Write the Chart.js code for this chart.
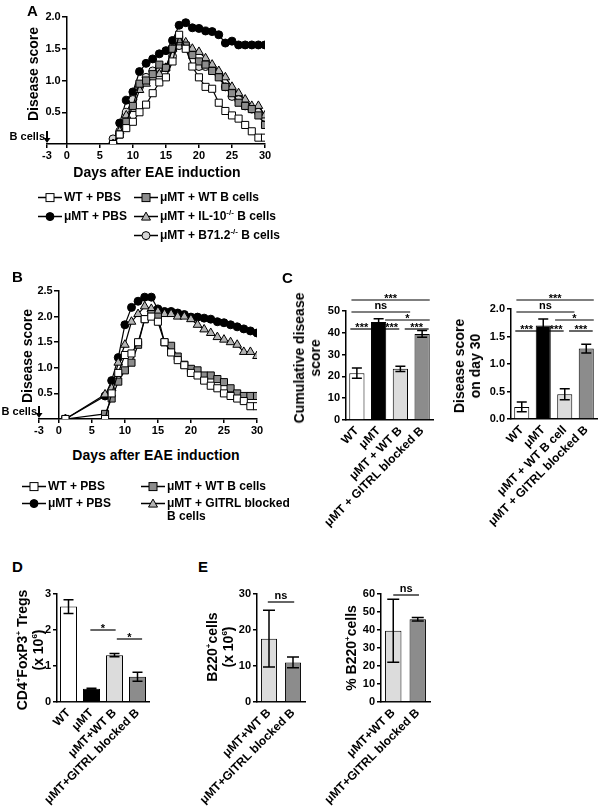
<!DOCTYPE html>
<html>
<head>
<meta charset="utf-8">
<script src="https://cdn.jsdelivr.net/npm/chart.js@4.4.1/dist/chart.umd.min.js"></script>
<style>
  body { margin: 0; background: #fff; }
  #fig { position: relative; width: 601px; height: 809px; overflow: hidden;
         font-family: "Liberation Sans", Arial, sans-serif; font-weight: bold; color: #000; }
  #fig canvas { position: absolute; }
  .t { position: absolute; white-space: nowrap; }
  .panel { font-size: 15px; line-height: 15px; }
  .xt { font-size: 14px; transform: translate(-50%, -50%); }
  .yt { font-size: 14px; line-height: 16px; text-align: center; transform: translate(-50%, -50%) rotate(-90deg); }
  .leg { font-size: 12px; line-height: 12px; transform: translateY(-50%); }
  .leg svg { vertical-align: middle; margin-right: 2px; }
  sup { font-size: 8px; line-height: 0; }
</style>
</head>
<body>
<div id="fig">
  <canvas id="chartA"></canvas>
  <canvas id="chartB"></canvas>
  <canvas id="chartC1"></canvas>
  <canvas id="chartC2"></canvas>
  <canvas id="chartD"></canvas>
  <canvas id="chartE1"></canvas>
  <canvas id="chartE2"></canvas>

  <div class="t panel" style="left:27px;top:3px">A</div>
  <div class="t panel" style="left:12px;top:269px">B</div>
  <div class="t panel" style="left:282px;top:270px">C</div>
  <div class="t panel" style="left:12px;top:559px">D</div>
  <div class="t panel" style="left:198px;top:559px">E</div>

  <div class="t yt" style="left:33px;top:74px">Disease score</div>
  <div class="t xt" style="left:157px;top:172px">Days after EAE induction</div>
  <div class="t yt" style="left:27px;top:356px">Disease score</div>
  <div class="t xt" style="left:156px;top:455px">Days after EAE induction</div>
  <div class="t yt" style="left:307px;top:358px">Cumulative disease<br>score</div>
  <div class="t yt" style="left:467px;top:366px">Disease score<br>on day 30</div>
  <div class="t yt" style="left:30px;top:650px">CD4<sup>+</sup>FoxP3<sup>+</sup> Tregs<br>(x 10<sup>6</sup>)</div>
  <div class="t yt" style="left:220px;top:647px">B220<sup>+</sup>cells<br>(x 10<sup>6</sup>)</div>
  <div class="t yt" style="left:351px;top:648px">% B220<sup>+</sup>cells</div>

  <div id="legendA"></div>
  <div id="legendB"></div>
</div>

<script>
// ---- panel A: disease course, days 7..30 ----
const daysA = [7,8,9,10,11,12,13,14,15,16,17,18,19,20,21,22,23,24,25,26,27,28,29,30];
const wtPbsA  = [0,0.15,0.25,0.35,0.5,0.62,0.8,0.97,1.05,1.3,1.72,1.5,1.22,1.05,0.9,0.87,0.65,0.52,0.45,0.4,0.3,0.2,0.1,0.1];
const muPbsA  = [0.02,0.33,0.69,0.82,1.14,1.27,1.34,1.42,1.47,1.63,1.87,1.91,1.83,1.82,1.78,1.77,1.72,1.59,1.62,1.56,1.56,1.56,1.56,1.56];
const wtBA    = [0,0.15,0.35,0.6,0.95,1.0,1.1,1.25,1.2,1.5,1.65,1.55,1.4,1.3,1.25,1.15,1.05,0.9,0.8,0.65,0.6,0.55,0.45,0.3];
const il10BA  = [0,0.2,0.45,0.55,0.85,0.95,1.05,1.1,1.2,1.5,1.6,1.6,1.5,1.45,1.35,1.25,1.15,1.05,0.9,0.8,0.7,0.6,0.6,0.45];
const b71BA   = [0.08,0.2,0.5,0.7,0.9,1.05,1.15,1.2,1.2,1.38,1.55,1.55,1.45,1.22,1.22,1.2,1.1,0.9,0.75,0.7,0.6,0.55,0.5,0.42];

// ---- panel B: disease course, day 1 and days 7..30 ----
const daysB = [1,7,8,9,10,11,12,13,14,15,16,17,18,19,20,21,22,23,24,25,26,27,28,29,30];
const wtPbsB  = [0,0,0.5,0.9,1.25,1.28,1.5,1.95,2.0,1.9,1.5,1.3,1.15,1.05,0.9,0.85,0.75,0.65,0.6,0.5,0.45,0.4,0.35,0.25,0.25];
const muPbsB  = [0,0.45,0.75,1.2,1.84,2.18,2.3,2.38,2.38,2.15,2.1,2.1,2.07,2.04,1.99,1.99,1.97,1.95,1.9,1.88,1.84,1.8,1.76,1.72,1.68];
const wtBB    = [0,0.1,0.4,0.73,0.95,1.1,1.45,1.95,2.05,2.0,1.5,1.43,1.22,1.06,0.98,0.95,0.85,0.85,0.78,0.72,0.6,0.5,0.45,0.45,0.45];
const gitrlBB = [0,0.48,0.6,1.1,1.45,1.9,2.05,2.2,2.15,2.1,2.05,2.05,2.0,2.0,1.95,1.84,1.75,1.68,1.6,1.55,1.5,1.45,1.31,1.31,1.23];

const dayTicks = [-3,0,5,10,15,20,25,30];
const scoreTicksA = [0.5,1.0,1.5,2.0];
const scoreTicksB = [0.5,1.0,1.5,2.0,2.5];

// ---- panel C ----
const cumCats = ['WT','μMT','μMT + WT B','μMT + GITRL blocked B'];
const cumMeans = [21.5,45,23.5,39.5];
const cumErr = [2.3,1.5,1.2,1.5];
const d30Cats = ['WT','μMT','μMT + WT B cell','μMT + GITRL blocked B'];
const d30Means = [0.22,1.7,0.45,1.28];
const d30Err = [0.09,0.12,0.1,0.08];

// ---- panel D ----
const tregCats = ['WT','μMT','μMT+WT B','μMT+GITRL blocked B'];
const tregMeans = [2.65,0.37,1.3,0.7];
const tregErr = [0.19,0.01,0.045,0.125];

// ---- panel E ----
const bCats = ['μMT+WT B','μMT+GITRL blocked B'];
const bCountMeans = [17.6,11];
const bCountErr = [7.9,1.5];
const bPctMeans = [39.6,46];
const bPctErr = [17.5,1];

const FONT = 'Liberation Sans, Arial, sans-serif';
const fourFills = ['#ffffff','#000000','#dcdcdc','#8c8c8c'];
const twoFills = ['#dcdcdc','#8c8c8c'];

// error bars on top of the bars
const errorBars = {
  id: 'errorBars',
  afterDatasetsDraw(chart, args, opts) {
    if (!opts.errors) return;
    const { ctx, scales: { x, y } } = chart;
    const means = chart.data.datasets[0].data;
    ctx.save();
    ctx.strokeStyle = '#000';
    ctx.lineWidth = 1.5;
    opts.errors.forEach((e, i) => {
      const px = x.getPixelForValue(i);
      const hi = y.getPixelForValue(means[i] + e);
      const lo = y.getPixelForValue(means[i] - e);
      const w = opts.cap;
      ctx.beginPath();
      ctx.moveTo(px, hi); ctx.lineTo(px, lo);
      ctx.moveTo(px - w, hi); ctx.lineTo(px + w, hi);
      ctx.moveTo(px - w, lo); ctx.lineTo(px + w, lo);
      ctx.stroke();
    });
    ctx.restore();
  }
};

// significance lines with stars
const brackets = {
  id: 'brackets',
  afterDraw(chart, args, opts) {
    if (!opts.items) return;
    const { ctx, scales: { x }, chartArea } = chart;
    ctx.save();
    ctx.strokeStyle = '#000';
    ctx.fillStyle = '#000';
    ctx.lineWidth = 1.2;
    ctx.font = 'bold 11px ' + FONT;
    ctx.textAlign = 'center';
    ctx.textBaseline = 'bottom';
    opts.items.forEach(b => {
      const x0 = x.getPixelForValue(b.from), x1 = x.getPixelForValue(b.to);
      const yy = chartArea.top + b.dy;
      ctx.beginPath(); ctx.moveTo(x0, yy); ctx.lineTo(x1, yy); ctx.stroke();
      ctx.fillText(b.text, (x0 + x1) / 2, yy + (b.text === 'ns' ? -1 : 4));
    });
    ctx.restore();
  }
};

// "B cells" arrow at day -3
const bCellArrow = {
  id: 'bCellArrow',
  afterDraw(chart) {
    const { ctx, scales: { x, y } } = chart;
    const px = x.getPixelForValue(-3), py = y.getPixelForValue(0);
    ctx.save();
    ctx.fillStyle = '#000';
    ctx.strokeStyle = '#000';
    ctx.lineWidth = 2;
    ctx.beginPath(); ctx.moveTo(px, py - 13); ctx.lineTo(px, py - 5); ctx.stroke();
    ctx.beginPath(); ctx.moveTo(px - 3.5, py - 6); ctx.lineTo(px + 3.5, py - 6); ctx.lineTo(px, py - 1); ctx.closePath(); ctx.fill();
    ctx.font = 'bold 11px ' + FONT;
    ctx.textAlign = 'right';
    ctx.textBaseline = 'middle';
    ctx.fillText('B cells', px - 2, py - 7);
    ctx.restore();
  }
};

function setCanvas(id, g) {
  const cv = document.getElementById(id);
  cv.width = g.w; cv.height = g.h;
  cv.style.left = g.x + 'px';
  cv.style.top = g.y + 'px';
  return cv;
}

function series(days, vals, style, fill, radius) {
  return {
    data: days.map((d, i) => ({ x: d, y: vals[i] })),
    borderColor: '#000', borderWidth: 1.2,
    pointStyle: style, pointRadius: radius,
    pointBackgroundColor: fill, pointBorderColor: '#000', pointBorderWidth: 1
  };
}

function lineChart(id, g, datasets, yMax, yTicks) {
  const cv = setCanvas(id, g);
  return new Chart(cv, {
    type: 'line',
    data: { datasets },
    options: {
      responsive: false, animation: false, devicePixelRatio: 1,
      layout: { padding: { left: g.l - g.x, top: g.t - g.y, right: g.x + g.w - g.r, bottom: 0 } },
      plugins: { legend: { display: false }, tooltip: { enabled: false } },
      scales: {
        x: {
          type: 'linear', min: -3, max: 30,
          afterBuildTicks: s => { s.ticks = dayTicks.map(v => ({ value: v })); },
          afterFit: s => { s.height = g.y + g.h - g.b; },
          grid: { drawOnChartArea: false, color: '#000', lineWidth: 1.5, tickLength: 4 },
          border: { color: '#000', width: 1.5 },
          ticks: { color: '#000', font: { family: FONT, weight: 'bold', size: 11 }, padding: 1, maxRotation: 0 }
        },
        y: {
          // y axis crosses the x axis at day 0
          position: { x: 0 }, min: 0, max: yMax,
          afterBuildTicks: s => { s.ticks = yTicks.map(v => ({ value: v })); },
          grid: { drawOnChartArea: false, color: '#000', lineWidth: 1.5, tickLength: 4 },
          border: { color: '#000', width: 1.5 },
          ticks: { color: '#000', font: { family: FONT, weight: 'bold', size: 11 },
                   callback: v => v.toFixed(1) + '  ' }
        }
      }
    },
    plugins: [bCellArrow]
  });
}

function barChart(id, g, cats, means, errs, fills, yMax, yStep, items, barPct, cap) {
  const cv = setCanvas(id, g);
  return new Chart(cv, {
    type: 'bar',
    data: { labels: cats, datasets: [{
      data: means, backgroundColor: fills, borderColor: '#000', borderWidth: 1,
      barPercentage: barPct, categoryPercentage: 1
    }] },
    options: {
      responsive: false, animation: false, devicePixelRatio: 1,
      layout: { padding: { left: 0, top: g.t - g.y, right: g.x + g.w - g.r, bottom: 0 } },
      plugins: {
        legend: { display: false }, tooltip: { enabled: false },
        errorBars: { errors: errs, cap: cap },
        brackets: { items: items }
      },
      scales: {
        x: {
          afterFit: s => { s.height = g.y + g.h - g.b; s.paddingLeft = 0; s.paddingRight = 0; },
          grid: { drawOnChartArea: false, drawTicks: false },
          border: { color: '#000', width: 1.5 },
          ticks: { color: '#000', font: { family: FONT, weight: 'bold', size: 12 },
                   minRotation: 45, maxRotation: 45, autoSkip: false, padding: 4 }
        },
        y: {
          min: 0, max: yMax,
          afterFit: s => { s.width = g.l - g.x; },
          grid: { drawOnChartArea: false, color: '#000', lineWidth: 1.5, tickLength: 4 },
          border: { color: '#000', width: 1.5 },
          ticks: { stepSize: yStep, color: '#000', font: { family: FONT, weight: 'bold', size: 11 }, padding: 2,
                   callback: v => (yStep < 1 ? v.toFixed(1) : v) }
        }
      }
    },
    plugins: [errorBars, brackets]
  });
}

// panel A
lineChart('chartA', { x: 0, y: 0, w: 275, h: 165, l: 47, t: 17, r: 265, b: 144 }, [
  series(daysA, wtPbsA, 'rect', '#ffffff', 5),
  series(daysA, wtBA, 'rect', '#8c8c8c', 5),
  series(daysA, il10BA, 'triangle', '#b4b4b4', 5),
  series(daysA, b71BA, 'circle', '#d6d6d6', 4),
  series(daysA, muPbsA, 'circle', '#000000', 4)
], 2.0, scoreTicksA);

// panel B
lineChart('chartB', { x: 0, y: 280, w: 265, h: 160, l: 39, t: 291, r: 257, b: 419 }, [
  series(daysB, wtPbsB, 'rect', '#ffffff', 5),
  series(daysB, wtBB, 'rect', '#8c8c8c', 5),
  series(daysB, gitrlBB, 'triangle', '#b4b4b4', 5),
  series(daysB, muPbsB, 'circle', '#000000', 4)
], 2.5, scoreTicksB);

// panel C
barChart('chartC1', { x: 300, y: 280, w: 140, h: 250, l: 346, t: 311, r: 433, b: 420 },
  cumCats, cumMeans, cumErr, fourFills, 50, 10, [
    { from: -0.25, to: 3.35, dy: -11, text: '***' },
    { from: -0.25, to: 2.45, dy: 1, text: 'ns' },
    { from: 1.3, to: 3.35, dy: 9, text: '*' },
    { from: -0.3, to: 0.75, dy: 18, text: '***' },
    { from: 1.25, to: 1.95, dy: 18, text: '***' },
    { from: 2.2, to: 3.3, dy: 18, text: '***' }
  ], 0.7, 5);
barChart('chartC2', { x: 470, y: 280, w: 131, h: 250, l: 511, t: 309, r: 597, b: 419 },
  d30Cats, d30Means, d30Err, fourFills, 2.0, 0.5, [
    { from: -0.25, to: 3.35, dy: -9, text: '***' },
    { from: -0.25, to: 2.45, dy: 3, text: 'ns' },
    { from: 1.55, to: 3.35, dy: 11, text: '*' },
    { from: -0.3, to: 0.75, dy: 22, text: '***' },
    { from: 1.25, to: 1.95, dy: 22, text: '***' },
    { from: 2.2, to: 3.3, dy: 22, text: '***' }
  ], 0.7, 5);

// panel D
barChart('chartD', { x: 20, y: 580, w: 135, h: 227, l: 57, t: 594, r: 149, b: 702 },
  tregCats, tregMeans, tregErr, fourFills, 3, 1, [
    { from: 0.95, to: 2.05, dy: 36, text: '*' },
    { from: 2.1, to: 3.2, dy: 45, text: '*' }
  ], 0.74, 5);

// panel E
barChart('chartE1', { x: 185, y: 580, w: 130, h: 227, l: 257, t: 594, r: 305, b: 702 },
  bCats, bCountMeans, bCountErr, twoFills, 30, 10, [
    { from: -0.05, to: 1.05, dy: 8, text: 'ns' }
  ], 0.67, 6);
barChart('chartE2', { x: 310, y: 580, w: 130, h: 227, l: 381, t: 594, r: 430, b: 702 },
  bCats, bPctMeans, bPctErr, twoFills, 60, 10, [
    { from: 0, to: 1.05, dy: 1, text: 'ns' }
  ], 0.67, 6);

// legends (HTML, glyph = line + marker)
function glyph(shape, fill) {
  let m = '';
  if (shape === 'rect') m = `<rect x="8" y="2" width="8" height="8" fill="${fill}" stroke="#000" stroke-width="1"/>`;
  if (shape === 'circle') m = `<circle cx="12" cy="6" r="4" fill="${fill}" stroke="#000" stroke-width="1"/>`;
  if (shape === 'triangle') m = `<polygon points="12,1.5 16.5,9.5 7.5,9.5" fill="${fill}" stroke="#000" stroke-width="1"/>`;
  return `<svg width="24" height="12"><line x1="0" y1="6" x2="24" y2="6" stroke="#000" stroke-width="1.5"/>${m}</svg>`;
}
function legend(id, items) {
  document.getElementById(id).innerHTML = items.map(it =>
    `<div class="t leg" style="left:${it.x}px;top:${it.y}px">${glyph(it.shape, it.fill)}${it.text}</div>`).join('');
}
legend('legendA', [
  { x: 38, y: 197, shape: 'rect', fill: '#ffffff', text: 'WT + PBS' },
  { x: 38, y: 216, shape: 'circle', fill: '#000000', text: 'μMT + PBS' },
  { x: 134, y: 197, shape: 'rect', fill: '#8c8c8c', text: 'μMT + WT B cells' },
  { x: 134, y: 216, shape: 'triangle', fill: '#b4b4b4', text: 'μMT + IL-10<sup>-/-</sup> B cells' },
  { x: 134, y: 235, shape: 'circle', fill: '#d6d6d6', text: 'μMT + B71.2<sup>-/-</sup> B cells' }
]);
legend('legendB', [
  { x: 22, y: 486, shape: 'rect', fill: '#ffffff', text: 'WT + PBS' },
  { x: 22, y: 503, shape: 'circle', fill: '#000000', text: 'μMT + PBS' },
  { x: 141, y: 486, shape: 'rect', fill: '#8c8c8c', text: 'μMT + WT B cells' },
  { x: 141, y: 503, shape: 'triangle', fill: '#b4b4b4', text: 'μMT + GITRL blocked' }
]);
document.getElementById('legendB').insertAdjacentHTML('beforeend',
  '<div class="t leg" style="left:167px;top:516px">B cells</div>');
</script>
</body>
</html>
